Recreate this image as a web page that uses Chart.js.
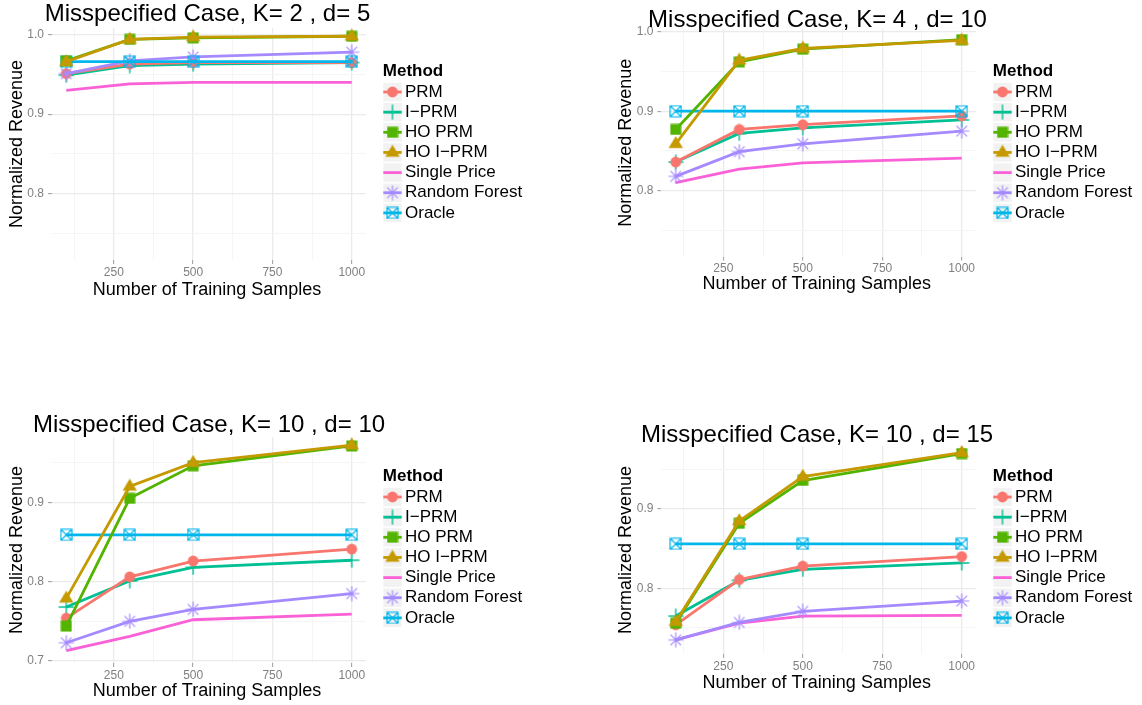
<!DOCTYPE html>
<html><head><meta charset="utf-8">
<script src="https://cdn.jsdelivr.net/npm/chart.js@4.4.1/dist/chart.umd.min.js"></script>
<style>
html,body{margin:0;padding:0;background:#fff;width:1142px;height:705px;overflow:hidden}
canvas{position:absolute}
</style></head><body>
<canvas id="c1" width="571" height="350" style="left:0px;top:0px"></canvas>
<canvas id="c2" width="571" height="350" style="left:571px;top:0px"></canvas>
<canvas id="c3" width="571" height="355" style="left:0px;top:350px"></canvas>
<canvas id="c4" width="571" height="355" style="left:571px;top:350px"></canvas>
<script>
// ---------------- data ----------------
const samples = [100, 300, 500, 1000];
const methods = ['PRM', 'I\u2212PRM', 'HO PRM', 'HO I\u2212PRM', 'Single Price', 'Random Forest', 'Oracle'];
const xTicksMajor = [250, 500, 750, 1000];
const xTicksMinor = [125, 375, 625, 875];

// Panel 1: K=2, d=5
const k2d5_PRM    = [0.951, 0.963, 0.965, 0.965];
const k2d5_IPRM   = [0.949, 0.961, 0.963, 0.965];
const k2d5_HOPRM  = [0.967, 0.994, 0.996, 0.998];
const k2d5_HOIPRM = [0.966, 0.994, 0.997, 0.998];
const k2d5_SP     = [0.930, 0.938, 0.940, 0.940];
const k2d5_RF     = [0.951, 0.967, 0.972, 0.978];
const k2d5_OR     = [0.966, 0.966, 0.966, 0.966];
const k2d5_yMajor = [0.8, 0.9, 1.0];
const k2d5_yMinor = [0.75, 0.85, 0.95];

// Panel 2: K=4, d=10
const k4d10_PRM    = [0.836, 0.877, 0.883, 0.894];
const k4d10_IPRM   = [0.836, 0.872, 0.879, 0.889];
const k4d10_HOPRM  = [0.877, 0.962, 0.978, 0.990];
const k4d10_HOIPRM = [0.859, 0.964, 0.979, 0.989];
const k4d10_SP     = [0.810, 0.827, 0.835, 0.841];
const k4d10_RF     = [0.818, 0.849, 0.859, 0.875];
const k4d10_OR     = [0.900, 0.900, 0.900, 0.900];
const k4d10_yMajor = [0.8, 0.9, 1.0];
const k4d10_yMinor = [0.75, 0.85, 0.95];

// Panel 3: K=10, d=10
const k10d10_PRM    = [0.754, 0.806, 0.826, 0.841];
const k10d10_IPRM   = [0.768, 0.801, 0.818, 0.827];
const k10d10_HOPRM  = [0.744, 0.905, 0.946, 0.971];
const k10d10_HOIPRM = [0.779, 0.920, 0.950, 0.972];
const k10d10_SP     = [0.713, 0.731, 0.752, 0.759];
const k10d10_RF     = [0.723, 0.750, 0.765, 0.785];
const k10d10_OR     = [0.859, 0.859, 0.859, 0.859];
const k10d10_yMajor = [0.7, 0.8, 0.9];
const k10d10_yMinor = [0.75, 0.85, 0.95];

// Panel 4: K=10, d=15
const k10d15_PRM    = [0.754, 0.811, 0.828, 0.840];
const k10d15_IPRM   = [0.765, 0.810, 0.824, 0.832];
const k10d15_HOPRM  = [0.756, 0.882, 0.936, 0.970];
const k10d15_HOIPRM = [0.758, 0.885, 0.941, 0.971];
const k10d15_SP     = [0.735, 0.756, 0.765, 0.766];
const k10d15_RF     = [0.735, 0.757, 0.771, 0.784];
const k10d15_OR     = [0.856, 0.856, 0.856, 0.856];
const k10d15_yMajor = [0.8, 0.9];
const k10d15_yMinor = [0.75, 0.85, 0.95];

// ---------------- styles ----------------
const COLORS = ['#F8766D', '#00C094', '#53B400', '#C49A00', '#FB61D7', '#A58AFF', '#00B6EB'];
const ORDER  = [5, 6, 2, 1, 7, 4, 3]; // drawing weight (higher drawn first)
const FONT = "'Liberation Sans', Arial, Helvetica, sans-serif";

function mk(size, fn) {
  const c = document.createElement('canvas');
  c.width = size; c.height = size;
  const g = c.getContext('2d');
  fn(g, size);
  return c;
}
const MARKERS = [
  mk(12, (g) => { g.fillStyle = COLORS[0]; g.beginPath(); g.arc(6, 6, 5.4, 0, Math.PI * 2); g.fill(); }),
  mk(16, (g) => { g.strokeStyle = COLORS[1]; g.lineWidth = 1.4; g.beginPath(); g.moveTo(8, 0.5); g.lineTo(8, 15.5); g.moveTo(0.5, 8); g.lineTo(15.5, 8); g.stroke(); }),
  mk(12, (g) => { g.fillStyle = COLORS[2]; g.fillRect(0.5, 0.5, 11, 11); }),
  mk(16, (g) => { g.fillStyle = COLORS[3]; g.beginPath(); g.moveTo(8, 0.2); g.lineTo(15.2, 12.2); g.lineTo(0.8, 12.2); g.closePath(); g.fill(); }),
  null,
  mk(16, (g) => { g.strokeStyle = COLORS[5]; g.lineWidth = 1.2; g.beginPath();
    g.moveTo(8, 0.5); g.lineTo(8, 15.5); g.moveTo(0.5, 8); g.lineTo(15.5, 8);
    g.moveTo(2.7, 2.7); g.lineTo(13.3, 13.3); g.moveTo(13.3, 2.7); g.lineTo(2.7, 13.3); g.stroke(); }),
  mk(13, (g) => { g.strokeStyle = COLORS[6]; g.lineWidth = 1.2; g.beginPath();
    g.rect(1, 1, 11, 11); g.moveTo(1, 1); g.lineTo(12, 12); g.moveTo(12, 1); g.lineTo(1, 12); g.stroke(); })
];

// ---------------- decoration plugin ----------------
function decorPlugin(cfg) {
  return {
    id: 'decor',
    afterDraw(chart) {
      const ctx = chart.ctx, a = chart.chartArea;
      ctx.save();
      ctx.fillStyle = '#000';
      // title
      ctx.font = '24px ' + FONT;
      ctx.textAlign = 'center'; ctx.textBaseline = 'alphabetic';
      ctx.fillText(cfg.title, cfg.titleX, cfg.titleY);
      // x title
      ctx.font = '18px ' + FONT;
      ctx.fillText('Number of Training Samples', (a.left + a.right) / 2 - 2, cfg.xTitleY);
      // y title
      ctx.save();
      ctx.translate(a.left - 35, (a.top + a.bottom) / 2);
      ctx.rotate(-Math.PI / 2);
      ctx.textBaseline = 'middle';
      ctx.fillText('Normalized Revenue', 0, 0);
      ctx.restore();
      // legend
      ctx.textAlign = 'left'; ctx.textBaseline = 'middle';
      ctx.font = 'bold 17px ' + FONT;
      ctx.fillText('Method', cfg.legX - 0.5, cfg.legY0 - 21);
      ctx.font = '17px ' + FONT;
      const step = 20.15, kw = 18.4;
      methods.forEach((m, i) => {
        const y = cfg.legY0 + i * step;
        ctx.fillStyle = '#F2F2F2';
        ctx.fillRect(cfg.legX, y - kw / 2, kw, kw);
        ctx.strokeStyle = COLORS[i]; ctx.lineWidth = 2.8;
        ctx.beginPath(); ctx.moveTo(cfg.legX, y); ctx.lineTo(cfg.legX + kw, y); ctx.stroke();
        const mkImg = MARKERS[i];
        if (mkImg) ctx.drawImage(mkImg, cfg.legX + kw / 2 - mkImg.width / 2, y - mkImg.height / 2);
        ctx.fillStyle = '#000';
        ctx.fillText(m, cfg.legX + 21.7, y);
      });
      ctx.restore();
    }
  };
}

function makeChart(id, cfg) {
  const cv = document.getElementById(id);
  const W = cv.width, H = cv.height;
  const series = cfg.series;
  const datasets = series.map((arr, i) => ({
    label: methods[i],
    data: samples.map((x, j) => ({ x: x, y: arr[j] })),
    borderColor: COLORS[i],
    backgroundColor: COLORS[i],
    borderWidth: 2.8,
    pointStyle: MARKERS[i] || 'circle',
    pointRadius: MARKERS[i] ? 5 : 0,
    pointHoverRadius: MARKERS[i] ? 5 : 0,
    tension: 0,
    fill: false,
    order: ORDER[i],
    clip: 10
  }));
  const xAll = xTicksMinor.concat(xTicksMajor).sort((p, q) => p - q);
  const yAll = cfg.yMinor.concat(cfg.yMajor).sort((p, q) => p - q);
  const isMaj = (list, v) => list.some(t => Math.abs(t - v) < 1e-9);
  return new Chart(cv, {
    type: 'line',
    data: { datasets },
    options: {
      responsive: false, animation: false, devicePixelRatio: 1, events: [],
      layout: { padding: { left: 0, top: cfg.area.t, right: W - cfg.area.r, bottom: 0 } },
      plugins: { legend: { display: false }, title: { display: false }, tooltip: { enabled: false } },
      scales: {
        x: {
          type: 'linear', min: 55, max: 1045,
          afterBuildTicks: s => { s.ticks = xAll.map(v => ({ value: v })); },
          afterFit: s => { s.height = H - cfg.area.b; },
          border: { display: false },
          grid: {
            color: c => (c.tick && isMaj(xTicksMajor, c.tick.value)) ? '#EBEBEB' : '#F5F5F5',
            lineWidth: c => (c.tick && isMaj(xTicksMajor, c.tick.value)) ? 1.3 : 1,
            tickColor: c => (c.tick && isMaj(xTicksMajor, c.tick.value)) ? '#9A9A9A' : 'rgba(0,0,0,0)',
            tickLength: 4, tickWidth: 1, drawTicks: true
          },
          ticks: {
            autoSkip: false, maxRotation: 0, minRotation: 0, padding: 1,
            color: '#7F7F7F', font: { family: FONT, size: 12 },
            callback: v => isMaj(xTicksMajor, v) ? String(v) : ''
          }
        },
        y: {
          type: 'linear', min: cfg.yMin, max: cfg.yMax,
          afterBuildTicks: s => { s.ticks = yAll.map(v => ({ value: v })); },
          afterFit: s => { s.width = cfg.area.l; },
          border: { display: false },
          grid: {
            color: c => (c.tick && isMaj(cfg.yMajor, c.tick.value)) ? '#EBEBEB' : '#F5F5F5',
            lineWidth: c => (c.tick && isMaj(cfg.yMajor, c.tick.value)) ? 1.3 : 1,
            tickColor: c => (c.tick && isMaj(cfg.yMajor, c.tick.value)) ? '#9A9A9A' : 'rgba(0,0,0,0)',
            tickLength: 4, tickWidth: 1, drawTicks: true
          },
          ticks: {
            autoSkip: false, padding: 4,
            color: '#7F7F7F', font: { family: FONT, size: 12 },
            callback: v => isMaj(cfg.yMajor, v) ? v.toFixed(1) : ''
          }
        }
      }
    },
    plugins: [decorPlugin(cfg)]
  });
}

makeChart('c1', {
  title: 'Misspecified Case, K= 2 , d= 5', titleX: 207.5, titleY: 20.8, xTitleY: 295,
  area: { l: 52, r: 366, t: 28, b: 260 }, yMin: 0.7166, yMax: 1.0084,
  yMajor: k2d5_yMajor, yMinor: k2d5_yMinor, legX: 383.3, legY0: 92,
  series: [k2d5_PRM, k2d5_IPRM, k2d5_HOPRM, k2d5_HOIPRM, k2d5_SP, k2d5_RF, k2d5_OR]
});
makeChart('c2', {
  title: 'Misspecified Case, K= 4 , d= 10', titleX: 246.5, titleY: 26.7, xTitleY: 288.5,
  area: { l: 90.4, r: 405, t: 29, b: 256.5 }, yMin: 0.7172, yMax: 1.0034,
  yMajor: k4d10_yMajor, yMinor: k4d10_yMinor, legX: 422.3, legY0: 92,
  series: [k4d10_PRM, k4d10_IPRM, k4d10_HOPRM, k4d10_HOIPRM, k4d10_SP, k4d10_RF, k4d10_OR]
});
makeChart('c3', {
  title: 'Misspecified Case, K= 10 , d= 10', titleX: 209, titleY: 81.7, xTitleY: 345.5,
  area: { l: 52, r: 366, t: 87, b: 313 }, yMin: 0.6975, yMax: 0.9823,
  yMajor: k10d10_yMajor, yMinor: k10d10_yMinor, legX: 383.3, legY0: 147,
  series: [k10d10_PRM, k10d10_IPRM, k10d10_HOPRM, k10d10_HOIPRM, k10d10_SP, k10d10_RF, k10d10_OR]
});
makeChart('c4', {
  title: 'Misspecified Case, K= 10 , d= 15', titleX: 246, titleY: 91.7, xTitleY: 337.5,
  area: { l: 90.4, r: 405, t: 96, b: 304 }, yMin: 0.7172, yMax: 0.9795,
  yMajor: k10d15_yMajor, yMinor: k10d15_yMinor, legX: 422.3, legY0: 147,
  series: [k10d15_PRM, k10d15_IPRM, k10d15_HOPRM, k10d15_HOIPRM, k10d15_SP, k10d15_RF, k10d15_OR]
});
</script>
</body></html>
